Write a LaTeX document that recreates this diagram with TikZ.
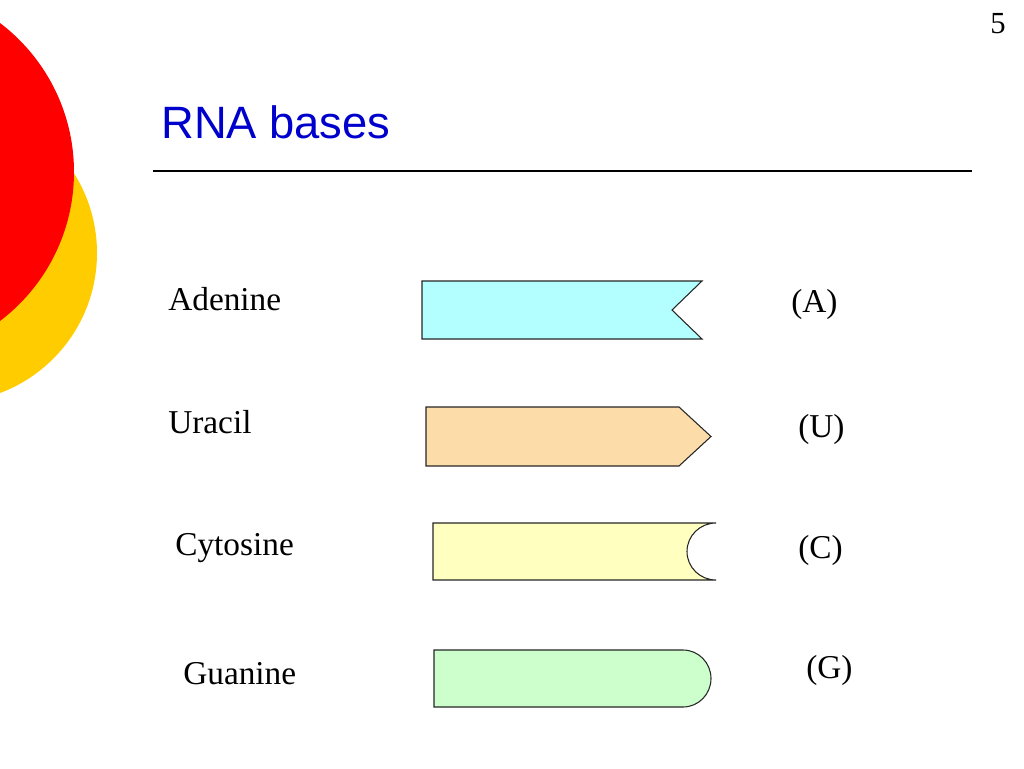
\documentclass[tikz,border=0pt]{standalone}
\usepackage{fontspec}
\setmainfont{Liberation Serif}
\newfontfamily\titlefont{Liberation Sans}
\definecolor{redc}{HTML}{FF0000}
\definecolor{yelc}{HTML}{FFCC00}
\definecolor{titleblue}{HTML}{0000CC}
\definecolor{cyanfill}{HTML}{B3FFFF}
\definecolor{peachfill}{HTML}{FCDDA9}
\definecolor{creamfill}{HTML}{FFFFC0}
\definecolor{greenfill}{HTML}{CCFFCC}
\tikzset{
  lbl/.style={anchor=base west, inner sep=0pt, font=\fontsize{25}{30}\selectfont},
  base/.style={draw=black!85, line width=0.8pt, line join=miter},
}
\begin{document}
\begin{tikzpicture}[x=0.75pt, y=-0.75pt]
\useasboundingbox (0,0) rectangle (1024,768);
% decorative circles
\fill[yelc] (-52.5,253) circle (149.5);
\fill[redc] (-113,172) circle (187);
% title
\node[anchor=base west, inner sep=0pt, text=titleblue, font=\titlefont\fontsize{34}{40}\selectfont] (title) at (161,138) {RNA bases};
\draw[black, line width=0.9pt] (153,171) -- (972,171);
\node[anchor=base east, inner sep=0pt, font=\fontsize{23}{28}\selectfont] (page) at (1006,33) {5};
% labels
\node[lbl] (adenine) at (168,310) {Adenine};
\node[lbl] (uracil) at (168,433) {Uracil};
\node[lbl] (cytosine) at (175,555) {Cytosine};
\node[lbl] (guanine) at (183,684) {Guanine};
\node[lbl] (la) at (791,312) {(A)};
\node[lbl] (lu) at (798,437) {(U)};
\node[lbl] (lc) at (798,558) {(C)};
\node[lbl] (lg) at (806,678) {(G)};
% shapes
\draw[base, fill=cyanfill] (422,281) -- (702,281) -- (672,310) -- (702,339) -- (422,339) -- cycle;
\draw[base, fill=peachfill] (426,407) -- (679,407) -- (711,436.5) -- (679,466) -- (426,466) -- cycle;
\draw[base, fill=creamfill] (433,523) -- (716,523) arc[start angle=270, end angle=90, x radius=29, y radius=28.5] -- (433,580) -- cycle;
\draw[base, fill=greenfill] (434,650) -- (683,650) arc[start angle=270, end angle=450, x radius=28, y radius=28.5] -- (434,707) -- cycle;
\end{tikzpicture}
\end{document}
